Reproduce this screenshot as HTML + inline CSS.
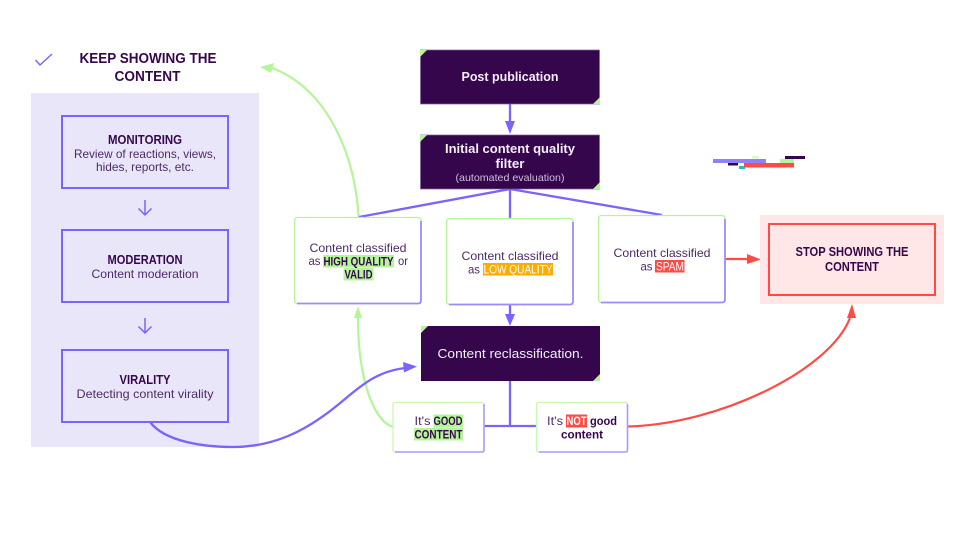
<!DOCTYPE html>
<html lang="en">
<head>
<meta charset="utf-8">
<title>Content moderation flow</title>
<style>
html,body{margin:0;padding:0;background:#fff;width:960px;height:540px;overflow:hidden}
svg{display:block}
text{font-family:"Liberation Sans",sans-serif;text-anchor:middle}
.b{font-weight:700;fill:#36064d}
.r{fill:#4d2a66}
.w{fill:#f3eef8}
</style>
</head>
<body>
<svg width="960" height="540" viewBox="0 0 960 540" xmlns="http://www.w3.org/2000/svg">
<rect width="960" height="540" fill="#fff"/>

<!-- left panel -->
<rect x="31" y="93" width="228" height="354" fill="#e9e6f9"/>
<path d="M35.500 60 L40 65 L52 54" fill="none" stroke="#7a63ff" stroke-width="1.400"/>
<text class="b" x="148" y="63" font-size="14.500" textLength="137" lengthAdjust="spacingAndGlyphs">KEEP SHOWING THE</text>
<text class="b" x="147.500" y="81" font-size="14.500" textLength="66" lengthAdjust="spacingAndGlyphs">CONTENT</text>

<rect x="62" y="116" width="166" height="72" fill="none" stroke="#7a63ff" stroke-width="2"/>
<text class="b" x="145" y="144" font-size="12.500" textLength="74" lengthAdjust="spacingAndGlyphs">MONITORING</text>
<text class="r" x="145" y="158" font-size="12" textLength="142" lengthAdjust="spacingAndGlyphs">Review of reactions, views,</text>
<text class="r" x="145" y="171" font-size="12" textLength="98" lengthAdjust="spacingAndGlyphs">hides, reports, etc.</text>

<rect x="62" y="230" width="166" height="72" fill="none" stroke="#7a63ff" stroke-width="2"/>
<text class="b" x="145" y="264" font-size="12.500" textLength="75" lengthAdjust="spacingAndGlyphs">MODERATION</text>
<text class="r" x="145" y="278" font-size="12" textLength="107" lengthAdjust="spacingAndGlyphs">Content moderation</text>

<rect x="62" y="350" width="166" height="72" fill="none" stroke="#7a63ff" stroke-width="2"/>
<text class="b" x="145" y="384" font-size="12.500" textLength="51" lengthAdjust="spacingAndGlyphs">VIRALITY</text>
<text class="r" x="145" y="398" font-size="12" textLength="137" lengthAdjust="spacingAndGlyphs">Detecting content virality</text>

<path d="M145 200 V215 M138.500 208.500 L145 215 L151.500 208.500" fill="none" stroke="#7a63ff" stroke-width="1.500"/>
<path d="M145 318 V333 M138.500 326.500 L145 333 L151.500 326.500" fill="none" stroke="#7a63ff" stroke-width="1.500"/>

<!-- green connectors -->
<path d="M358.500 217 C356 160 330 90 272 68" fill="none" stroke="#b5f59a" stroke-width="2.200"/>
<polygon points="260,67 274,63 271,73" fill="#b5f59a"/>
<path d="M393 427 C372 420 358 375 358 318" fill="none" stroke="#b5f59a" stroke-width="2.200"/>
<polygon points="358,306 354,318 362,318" fill="#b5f59a"/>

<!-- purple connectors -->
<path d="M150 422 C165 442 205 447 233 447 C285 447 320 420 345 399 C365 382 380 371 405 368" fill="none" stroke="#7a63ff" stroke-width="2.300"/>
<polygon points="417,366.500 403,362 404,372.500" fill="#7a63ff"/>
<path d="M510 104 V123" stroke="#7a63ff" stroke-width="2.300"/>
<polygon points="510,134 505,121 515,121" fill="#7a63ff"/>
<path d="M359 217 L510 189 L662 215 M510 189 V219" fill="none" stroke="#7a63ff" stroke-width="2.300"/>
<path d="M510 305 V316" stroke="#7a63ff" stroke-width="2.300"/>
<polygon points="510,326 505,314 515,314" fill="#7a63ff"/>
<path d="M510 381 V426 M484 426 H536" fill="none" stroke="#7a63ff" stroke-width="2.300"/>

<!-- red connectors -->
<path d="M725 259 H750" stroke="#ff4b45" stroke-width="2.200"/>
<polygon points="761,259.500 747,254 747,264" fill="#ff4b45"/>
<path d="M628 426.500 C720 424 830 370 850 318" fill="none" stroke="#ff4b45" stroke-width="2.200"/>
<polygon points="852,304 847,318 856,318" fill="#ff4b45"/>

<!-- dark boxes -->
<rect x="420.500" y="50" width="179" height="54" fill="#36064d" stroke="#7f62a0" stroke-width=".7"/>
<polygon points="420,50 427,50 420,57" fill="#b5f59a"/>
<polygon points="600,104 593,104 600,97" fill="#b5f59a"/>
<text class="w" x="510" y="81" font-size="12.500" font-weight="700" textLength="97" lengthAdjust="spacingAndGlyphs">Post publication</text>

<rect x="420.500" y="135" width="179" height="54" fill="#36064d" stroke="#7f62a0" stroke-width=".7"/>
<polygon points="420,135 427,135 420,142" fill="#b5f59a"/>
<polygon points="600,189 593,189 600,182" fill="#b5f59a"/>
<text class="w" x="510" y="153" font-size="12.500" font-weight="700" textLength="130" lengthAdjust="spacingAndGlyphs">Initial content quality</text>
<text class="w" x="510" y="168" font-size="12.500" font-weight="700" textLength="29" lengthAdjust="spacingAndGlyphs">filter</text>
<text x="510" y="181" font-size="10.500" fill="#cdbfdc" textLength="109" lengthAdjust="spacingAndGlyphs">(automated evaluation)</text>

<rect x="421" y="326" width="179" height="55" fill="#36064d"/>
<polygon points="421,326 428,326 421,333" fill="#b5f59a"/>
<polygon points="600,381 593,381 600,374" fill="#b5f59a"/>
<text class="w" x="510.500" y="358" font-size="13" textLength="146" lengthAdjust="spacingAndGlyphs">Content reclassification.</text>

<!-- cards -->
<g fill="#fff" stroke-width="1.300">
<rect x="294.500" y="217.500" width="126.500" height="86" rx="3" stroke="#b5f59a"/>
<path d="M297 303.500 H418 Q421 303.500 421 300.500 V221" fill="none" stroke="#9a8cff" stroke-width="1.800"/>

<rect x="446.500" y="218.500" width="126.500" height="86" rx="3" stroke="#b5f59a"/>
<path d="M449 304.500 H570 Q573 304.500 573 301.500 V222" fill="none" stroke="#9a8cff" stroke-width="1.800"/>

<rect x="598.500" y="215.500" width="126.500" height="87" rx="3" stroke="#b5f59a"/>
<path d="M601 302.500 H722 Q725 302.500 725 299.500 V219" fill="none" stroke="#9a8cff" stroke-width="1.800"/>

<rect x="393" y="402.500" width="91" height="49.500" rx="2" stroke="#c8f7b4"/>
<path d="M395 452 H482 Q484 452 484 450 V404" fill="none" stroke="#a99cff" stroke-width="1.600"/>

<rect x="536.500" y="402.500" width="91" height="49.500" rx="2" stroke="#c8f7b4"/>
<path d="M539 452 H625 Q627.500 452 627.500 450 V404" fill="none" stroke="#a99cff" stroke-width="1.600"/>
</g>

<!-- card 1 -->
<text class="r" x="358" y="252" font-size="12" textLength="97" lengthAdjust="spacingAndGlyphs">Content classified</text>
<text class="r" x="314.500" y="265" font-size="12" textLength="12" lengthAdjust="spacingAndGlyphs">as</text>
<rect x="323" y="255" width="71" height="12.500" fill="#b5f59a"/>
<text class="b" x="358.500" y="265.500" font-size="12" textLength="70" lengthAdjust="spacingAndGlyphs">HIGH QUALITY</text>
<text class="r" x="403" y="265" font-size="12" textLength="10" lengthAdjust="spacingAndGlyphs">or</text>
<rect x="343.500" y="268" width="30" height="12.500" fill="#b5f59a"/>
<text class="b" x="358.500" y="278.500" font-size="12" textLength="28" lengthAdjust="spacingAndGlyphs">VALID</text>

<!-- card 2 -->
<text class="r" x="510" y="260" font-size="12" textLength="97" lengthAdjust="spacingAndGlyphs">Content classified</text>
<text class="r" x="474" y="273.500" font-size="12" textLength="12" lengthAdjust="spacingAndGlyphs">as</text>
<rect x="483" y="263" width="70" height="12.500" fill="#ffab00"/>
<text x="518" y="273.500" font-size="12" fill="#fff" textLength="69" lengthAdjust="spacingAndGlyphs">LOW QUALITY</text>

<!-- card 3 -->
<text class="r" x="662" y="257" font-size="12" textLength="97" lengthAdjust="spacingAndGlyphs">Content classified</text>
<text class="r" x="646.500" y="270.500" font-size="12" textLength="12" lengthAdjust="spacingAndGlyphs">as</text>
<rect x="655" y="260" width="29.500" height="12.500" fill="#ff4b45"/>
<text x="670" y="270.500" font-size="12" fill="#fff" textLength="28" lengthAdjust="spacingAndGlyphs">SPAM</text>

<!-- stop panel -->
<rect x="760" y="215" width="184" height="89" fill="#ffe7e7"/>
<rect x="769" y="224" width="166" height="71" fill="none" stroke="#ff4b45" stroke-width="2"/>
<text class="b" x="852" y="256" font-size="13" textLength="113" lengthAdjust="spacingAndGlyphs">STOP SHOWING THE</text>
<text class="b" x="852" y="271" font-size="13" textLength="54" lengthAdjust="spacingAndGlyphs">CONTENT</text>

<!-- good -->
<text class="r" x="422.500" y="425" font-size="12" textLength="16" lengthAdjust="spacingAndGlyphs">It's</text>
<rect x="433.500" y="414.500" width="29.500" height="13" fill="#b5f59a"/>
<text class="b" x="448" y="425" font-size="12" textLength="29" lengthAdjust="spacingAndGlyphs">GOOD</text>
<rect x="414" y="428" width="49" height="12.500" fill="#b5f59a"/>
<text class="b" x="438.500" y="438.500" font-size="12" textLength="48" lengthAdjust="spacingAndGlyphs">CONTENT</text>

<!-- not good -->
<text class="r" x="555" y="425" font-size="12" textLength="16" lengthAdjust="spacingAndGlyphs">It's</text>
<rect x="566" y="414.500" width="21" height="13" fill="#ff4b45"/>
<text x="576.500" y="425" font-size="12" font-weight="700" fill="#fff" textLength="20" lengthAdjust="spacingAndGlyphs">NOT</text>
<text class="b" x="603.500" y="425" font-size="12" textLength="27" lengthAdjust="spacingAndGlyphs">good</text>
<text class="b" x="582" y="438.500" font-size="12" textLength="42" lengthAdjust="spacingAndGlyphs">content</text>

<!-- stray fragment -->
<rect x="713" y="159" width="53" height="4" fill="#8f80ff"/>
<rect x="728" y="163" width="10" height="2.500" fill="#36064d"/>
<rect x="739" y="166" width="6" height="3" fill="#12c4c4"/>
<rect x="744" y="163" width="50" height="4.500" fill="#ff4b45"/>
<rect x="752" y="156" width="7" height="2.500" fill="#d8f9c8"/>
<rect x="780" y="159" width="14" height="4" fill="#b5f59a"/>
<rect x="785" y="156" width="20" height="3" fill="#36064d"/>
</svg>
</body>
</html>
